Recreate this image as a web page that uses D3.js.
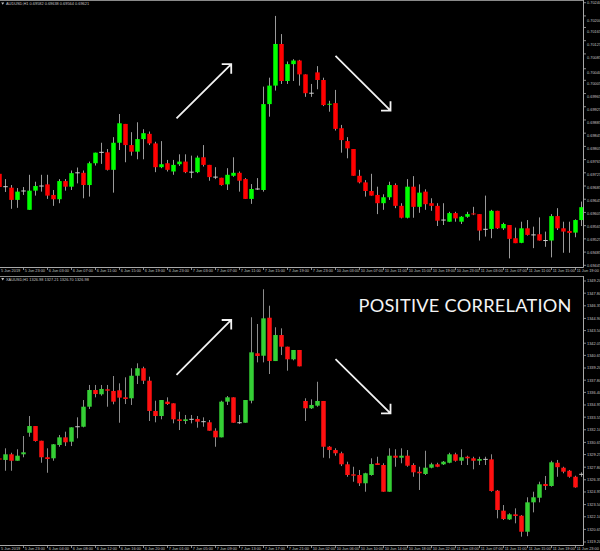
<!DOCTYPE html>
<html><head><meta charset="utf-8">
<script src="https://cdn.jsdelivr.net/npm/d3@7/dist/d3.min.js"></script>
<style>html,body{margin:0;padding:0;background:#000;overflow:hidden}</style>
</head><body>
<svg id="chart" width="600" height="551"></svg>
<script>
// ---------- AUDUSD H1 ----------
const audOpen=[0.69722,0.69683,0.69680,0.69643,0.69670,0.69613,0.69671,0.69685,0.69690,0.69658,0.69645,0.69700,0.69683,0.69725,0.69725,0.69688,0.69754,0.69787,0.69787,0.69734,0.69816,0.69873,0.69809,0.69789,0.69827,0.69843,0.69814,0.69742,0.69754,0.69729,0.69751,0.69759,0.69727,0.69727,0.69772,0.69749,0.69712,0.69710,0.69690,0.69716,0.69725,0.69706,0.69646,0.69676,0.69673,0.69933,0.69989,0.70115,0.70003,0.70054,0.70065,0.70023,0.69966,0.70029,0.70006,0.69932,0.69936,0.69860,0.69821,0.69797,0.69716,0.69696,0.69670,0.69658,0.69633,0.69651,0.69688,0.69625,0.69589,0.69683,0.69622,0.69668,0.69633,0.69625,0.69582,0.69577,0.69603,0.69577,0.69592,0.69602,0.69600,0.69554,0.69555,0.69610,0.69557,0.69567,0.69527,0.69513,0.69557,0.69537,0.69539,0.69520,0.69520,0.69594,0.69557,0.69549,0.69544,0.69582];
const audHigh=[0.69731,0.69706,0.69688,0.69679,0.69682,0.69719,0.69698,0.69719,0.69719,0.69673,0.69706,0.69706,0.69732,0.69741,0.69732,0.69759,0.69786,0.69816,0.69797,0.69833,0.69903,0.69873,0.69848,0.69878,0.69857,0.69850,0.69819,0.69821,0.69764,0.69764,0.69781,0.69781,0.69777,0.69777,0.69809,0.69749,0.69742,0.69710,0.69739,0.69772,0.69729,0.69709,0.69691,0.69709,0.69986,0.70013,0.70200,0.70145,0.70062,0.70069,0.70067,0.70023,0.69994,0.70048,0.70013,0.69943,0.69976,0.69870,0.69833,0.69797,0.69734,0.69703,0.69722,0.69683,0.69660,0.69698,0.69693,0.69633,0.69706,0.69715,0.69690,0.69675,0.69648,0.69633,0.69633,0.69607,0.69607,0.69594,0.69607,0.69622,0.69600,0.69656,0.69613,0.69610,0.69574,0.69567,0.69559,0.69577,0.69582,0.69562,0.69590,0.69547,0.69600,0.69618,0.69577,0.69577,0.69584,0.69638];
const audLow=[0.69673,0.69667,0.69616,0.69619,0.69658,0.69613,0.69656,0.69668,0.69646,0.69625,0.69633,0.69671,0.69673,0.69693,0.69648,0.69653,0.69747,0.69752,0.69732,0.69665,0.69794,0.69757,0.69777,0.69766,0.69766,0.69809,0.69727,0.69739,0.69729,0.69719,0.69746,0.69724,0.69709,0.69724,0.69744,0.69701,0.69706,0.69686,0.69673,0.69713,0.69668,0.69646,0.69631,0.69673,0.69668,0.69895,0.69974,0.69994,0.69994,0.70003,0.69989,0.69955,0.69955,0.69978,0.69927,0.69910,0.69853,0.69786,0.69769,0.69716,0.69693,0.69653,0.69656,0.69600,0.69613,0.69643,0.69618,0.69587,0.69587,0.69589,0.69604,0.69613,0.69610,0.69564,0.69567,0.69577,0.69577,0.69570,0.69589,0.69597,0.69520,0.69532,0.69527,0.69555,0.69552,0.69466,0.69512,0.69512,0.69535,0.69497,0.69520,0.69501,0.69469,0.69552,0.69483,0.69483,0.69530,0.69564];
const audClose=[0.69682,0.69683,0.69643,0.69668,0.69670,0.69671,0.69685,0.69685,0.69656,0.69645,0.69700,0.69683,0.69724,0.69725,0.69688,0.69754,0.69786,0.69787,0.69734,0.69816,0.69875,0.69809,0.69789,0.69827,0.69845,0.69814,0.69742,0.69751,0.69734,0.69749,0.69759,0.69727,0.69727,0.69771,0.69749,0.69712,0.69712,0.69688,0.69719,0.69725,0.69701,0.69646,0.69676,0.69676,0.69933,0.69989,0.70115,0.70003,0.70054,0.70065,0.70023,0.69966,0.69966,0.70006,0.69930,0.69934,0.69858,0.69824,0.69799,0.69716,0.69696,0.69670,0.69656,0.69633,0.69651,0.69688,0.69625,0.69589,0.69683,0.69622,0.69665,0.69630,0.69625,0.69580,0.69582,0.69603,0.69587,0.69592,0.69600,0.69599,0.69550,0.69554,0.69610,0.69557,0.69570,0.69525,0.69512,0.69557,0.69537,0.69537,0.69520,0.69520,0.69594,0.69557,0.69547,0.69543,0.69582,0.69621];
const audTicks=["0.70240","0.70200","0.70165","0.70125","0.70085","0.70040","0.70005","0.69965","0.69925","0.69885","0.69845","0.69805","0.69765","0.69725","0.69685","0.69645","0.69605","0.69565","0.69525","0.69485","0.69445"];
const audTimes=["5 Jun 2019","5 Jun 23:00","6 Jun 03:00","6 Jun 07:00","6 Jun 11:00","6 Jun 15:00","6 Jun 19:00","6 Jun 23:00","7 Jun 03:00","7 Jun 07:00","7 Jun 11:00","7 Jun 15:00","7 Jun 19:00","7 Jun 23:00","10 Jun 03:00","10 Jun 07:00","10 Jun 11:00","10 Jun 15:00","10 Jun 19:00","10 Jun 23:00","11 Jun 03:00","11 Jun 07:00","11 Jun 11:00","11 Jun 15:00","11 Jun 19:00"];

// ---------- XAUUSD H1 ----------
const xauOpen=[1328.80,1328.63,1329.28,1328.54,1329.28,1331.76,1332.53,1330.84,1328.94,1328.82,1330.35,1331.23,1330.73,1332.45,1332.45,1334.75,1336.67,1336.18,1336.75,1336.56,1336.64,1335.83,1335.72,1338.31,1339.17,1337.74,1334.26,1333.68,1335.33,1335.14,1333.30,1333.11,1333.30,1333.34,1333.03,1332.96,1331.99,1331.23,1335.33,1335.83,1332.91,1332.91,1335.44,1340.89,1340.61,1344.98,1340.00,1342.99,1341.65,1340.20,1341.27,1335.41,1334.57,1334.87,1335.41,1330.15,1329.77,1329.40,1328.13,1326.98,1326.90,1325.95,1326.90,1328.25,1328.05,1324.98,1329.12,1328.89,1329.12,1328.05,1327.28,1327.02,1327.74,1328.13,1328.13,1328.31,1329.28,1328.54,1329.00,1328.82,1328.54,1328.70,1328.70,1325.10,1322.80,1321.80,1322.38,1322.22,1320.38,1323.76,1324.29,1325.87,1325.64,1328.31,1327.74,1327.39,1326.70,1326.98];
const xauHigh=[1329.08,1329.97,1329.46,1329.86,1331.38,1333.68,1332.53,1330.84,1329.97,1330.46,1331.50,1331.88,1332.38,1333.53,1335.52,1337.25,1337.25,1337.25,1337.25,1338.28,1337.44,1338.13,1339.17,1339.74,1339.35,1338.20,1335.44,1335.52,1335.83,1335.14,1334.18,1333.80,1333.80,1333.68,1333.53,1333.22,1332.27,1335.44,1335.98,1335.83,1333.80,1335.52,1345.03,1344.26,1348.25,1346.36,1343.88,1343.76,1341.65,1341.27,1341.27,1335.72,1335.60,1337.62,1335.41,1330.23,1329.97,1329.58,1328.43,1327.85,1327.48,1327.16,1328.82,1329.00,1328.25,1329.97,1329.86,1329.97,1329.77,1328.25,1327.85,1329.69,1328.31,1328.31,1328.51,1329.46,1329.46,1329.86,1329.12,1329.00,1329.00,1329.00,1329.28,1325.18,1323.45,1322.50,1323.07,1322.30,1324.34,1324.98,1326.13,1326.79,1328.54,1328.63,1327.85,1327.48,1326.82,1327.21];
const xauLow=[1328.40,1327.39,1327.39,1328.54,1328.94,1331.30,1330.73,1328.31,1327.16,1328.54,1330.15,1330.23,1330.23,1331.12,1332.38,1334.49,1335.83,1336.02,1334.75,1335.03,1332.91,1335.06,1334.95,1337.36,1337.36,1333.11,1332.96,1333.30,1334.95,1332.84,1332.07,1332.76,1332.84,1332.34,1332.45,1331.99,1330.15,1331.23,1334.95,1332.91,1332.76,1332.91,1335.14,1339.85,1339.85,1338.51,1340.00,1340.69,1338.89,1340.08,1339.39,1333.11,1334.49,1334.75,1328.89,1328.82,1329.12,1327.93,1326.70,1326.13,1325.64,1324.98,1326.82,1328.05,1324.98,1324.98,1327.85,1328.25,1327.85,1326.70,1325.18,1326.90,1327.67,1327.80,1328.05,1328.25,1328.43,1328.05,1328.05,1327.56,1328.05,1328.05,1324.98,1321.92,1321.73,1321.73,1321.35,1319.81,1319.87,1322.61,1323.76,1325.18,1325.56,1326.70,1327.10,1326.59,1325.44,1326.70];
const xauClose=[1328.68,1329.28,1328.54,1329.12,1329.51,1332.53,1330.81,1328.94,1328.74,1330.43,1331.23,1330.66,1332.38,1332.45,1334.75,1336.67,1336.21,1336.79,1336.59,1335.33,1335.79,1335.64,1338.31,1339.17,1337.74,1334.26,1333.68,1335.52,1335.06,1333.30,1333.11,1333.30,1333.30,1333.03,1333.03,1331.99,1331.23,1335.33,1335.83,1332.91,1332.91,1335.52,1341.00,1340.58,1344.91,1340.00,1342.99,1341.65,1340.20,1341.27,1339.39,1334.57,1334.95,1335.41,1330.15,1329.77,1329.40,1328.13,1326.90,1326.82,1325.95,1327.10,1328.16,1328.05,1324.98,1329.12,1328.89,1329.12,1327.97,1327.21,1327.10,1327.74,1328.13,1327.85,1328.43,1329.28,1328.54,1328.94,1328.82,1328.54,1328.74,1328.70,1325.06,1322.88,1321.84,1322.38,1322.19,1320.38,1323.76,1324.34,1325.83,1325.64,1328.36,1327.80,1327.28,1326.70,1325.48,1326.98];
const xauTicks=["1349.20","1347.80","1346.35","1344.90","1343.50","1342.05","1340.65","1339.20","1337.80","1336.40","1334.95","1333.55","1332.10","1330.65","1329.25","1327.80","1326.35","1324.95","1323.50","1322.10","1320.65","1319.20"];
const xauTimes=["5 Jun 2019","5 Jun 23:00","6 Jun 04:00","6 Jun 08:00","6 Jun 12:00","6 Jun 16:00","6 Jun 20:00","7 Jun 01:00","7 Jun 05:00","7 Jun 09:00","7 Jun 13:00","7 Jun 17:00","7 Jun 21:00","10 Jun 02:00","10 Jun 06:00","10 Jun 10:00","10 Jun 14:00","10 Jun 18:00","10 Jun 22:00","11 Jun 03:00","11 Jun 07:00","11 Jun 11:00","11 Jun 15:00","11 Jun 19:00","11 Jun 23:00"];
const timeLabelBars=[0,4,8,12,16,20,24,28,32,36,40,44,48,52,56,60,64,68,72,76,80,84,88,92,96];

// annotation arrows in data space: [bar index, price] -> [bar index, price]
const audArrows=[[29.5,0.69890,38.62,0.70054],[56,0.70079,65.17,0.69913]];
const xauArrows=[[29.5,1338.40,38.62,1344.72],[56,1340.23,65.17,1333.99]];
const audHeader="AUDUSD,H1  0.69582 0.69638 0.69564 0.69621";
const xauHeader="XAUUSD,H1  1326.98 1327.21 1326.70 1326.98";
const noteText="POSITIVE CORRELATION";

// ---------- drawing ----------
const svg=d3.select("#chart");
svg.append("rect").attr("width",600).attr("height",551).attr("fill","#000");
const x=d3.scaleLinear().domain([0,97]).range([-1,581]);
const AX=583;
const FONT="'Liberation Sans', Arial, sans-serif";

function panel(cfg){
  const y=d3.scaleLinear().domain(cfg.domain).range(cfg.range);
  const clipId="clip"+cfg.name;
  svg.append("clipPath").attr("id",clipId).append("rect")
     .attr("x",0).attr("y",cfg.top).attr("width",AX).attr("height",cfg.bottom-cfg.top);
  const g=svg.append("g").attr("clip-path",`url(#${clipId})`);
  const data=cfg.O.map((o,i)=>({i,o,h:cfg.H[i],l:cfg.L[i],c:cfg.C[i]}));
  // wicks
  g.selectAll("rect.w").data(data).join("rect").attr("class","w")
    .attr("x",d=>x(d.i)).attr("width",1)
    .attr("y",d=>y(d.h)).attr("height",d=>Math.max(1,y(d.l)-y(d.h)))
    .attr("fill",cfg.wick);
  // bodies
  g.selectAll("rect.b").data(data).join("rect").attr("class","b")
    .attr("x",d=>x(d.i)+0.5-2.25).attr("width",4.5)
    .attr("y",d=>d.o===d.c? y(d.o)-0.5 : y(Math.max(d.o,d.c)))
    .attr("height",d=>d.o===d.c?1:Math.max(1,Math.abs(y(d.o)-y(d.c))))
    .attr("fill",d=>d.o===d.c?cfg.doji:(d.c>d.o?cfg.up:cfg.down));
  // arrows
  cfg.arrows.forEach(a=>{
    const x0=x(a[0])+0.5,y0=y(a[1]),x1=x(a[2])+0.5,y1=y(a[3]);
    const s=Math.sign(y1-y0);
    g.append("path")
     .attr("d",`M${x0},${y0}L${x1},${y1}M${x1-9.5},${y1}L${x1},${y1}L${x1},${y1-s*9.5}`)
     .attr("fill","none").attr("stroke","#f2f2f2").attr("stroke-width",1.8)
     .attr("stroke-linecap","butt").attr("stroke-linejoin","miter");
  });
  // frame
  const ax=svg.append("g").attr("stroke","#a8a8a8").attr("stroke-width",1).attr("fill","none");
  ax.append("path").attr("d",`M0,${cfg.top+0.5}H${AX+0.5}`).attr("stroke","#8a8a8a");
  ax.append("path").attr("d",`M${AX+0.5},${cfg.top}V${cfg.bottom+0.5}`);
  ax.append("path").attr("d",`M0,${cfg.bottom+0.5}H${AX+0.5}`);
  // price ticks
  const tg=svg.append("g");
  const n=cfg.ticks.length;
  cfg.ticks.forEach((t,k)=>{
    const v=+t; const ty=y(v);
    const shift=k===0?0:cfg.shiftTop+(cfg.shiftBottom-cfg.shiftTop)*k/(n-1);
    tg.append("line").attr("x1",AX+1).attr("x2",AX+3).attr("y1",ty).attr("y2",ty)
      .attr("stroke","#a8a8a8").attr("stroke-width",0.8);
    tg.append("text").attr("x",AX+4).attr("y",ty+shift).attr("dy","0.35em")
      .attr("fill","#c4c4c4").attr("font-size",3.9).attr("font-family",FONT).text(t);
  });
  // time axis
  cfg.times.forEach((t,k)=>{
    const tx=x(timeLabelBars[k])+0.5;
    tg.append("line").attr("x1",tx).attr("x2",tx).attr("y1",cfg.bottom+0.5).attr("y2",cfg.bottom+3)
      .attr("stroke","#a8a8a8").attr("stroke-width",0.8);
    tg.append("text").attr("x",Math.max(1,tx+1.2)).attr("y",cfg.bottom+5.4)
      .attr("fill","#c4c4c4").attr("font-size",3.9).attr("font-family",FONT).text(t);
  });
  // header
  const hy=cfg.top+cfg.headerOff;
  tg.append("path").attr("d",`M1.2,${hy-1.2}L4.2,${hy-1.2}L2.7,${hy+1.2}Z`).attr("fill","#c4c4c4");
  tg.append("text").attr("x",6).attr("y",hy).attr("dy","0.35em")
    .attr("fill","#c4c4c4").attr("font-size",3.9).attr("font-family",FONT).text(cfg.header);
  return y;
}

panel({name:"aud",O:audOpen,H:audHigh,L:audLow,C:audClose,
  domain:[0.69445,0.70240],range:[265.3,2.7],top:0,bottom:267,
  up:"#00ff00",down:"#ff0000",wick:"#9a9a9a",doji:"#cfcfcf",
  ticks:audTicks,times:audTimes,arrows:audArrows,header:audHeader,shiftTop:4.5,shiftBottom:0,headerOff:3.6});
panel({name:"xau",O:xauOpen,H:xauHigh,L:xauLow,C:xauClose,
  domain:[1319.20,1349.20],range:[542,281],top:276,bottom:545,
  up:"#35cf35",down:"#ff1010",wick:"#8c8c8c",doji:"#c8c8c8",
  ticks:xauTicks,times:xauTimes,arrows:xauArrows,header:xauHeader,shiftTop:0,shiftBottom:0,headerOff:3.2});

svg.append("text").attr("x",358.5).attr("y",311.7)
  .attr("fill","#f4f4f4").attr("font-size",18.2).attr("font-family","Lato, 'Open Sans', sans-serif")
  .attr("textLength",213).attr("lengthAdjust","spacing").text(noteText);
</script>
</body></html>
